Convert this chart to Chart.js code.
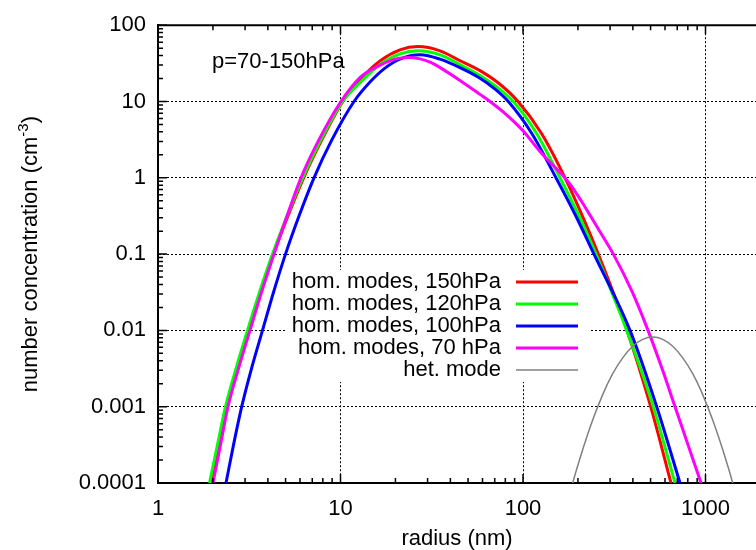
<!DOCTYPE html>
<html>
<head>
<meta charset="utf-8">
<script src="https://cdn.jsdelivr.net/npm/chart.js@4.4.1/dist/chart.umd.min.js"></script>
<style>
  html, body { margin: 0; padding: 0; background: #fff; }
  canvas { display: block; }
</style>
</head>
<body>
<canvas id="myChart" width="756" height="550"></canvas>
<script>
// radius (nm) / number concentration (cm-3)
var radius150 = [1.938, 2.143, 2.371, 2.708, 3.131, 3.642, 4.292, 5.153, 6.281, 7.914, 10.3, 12.79, 16.46, 21.18, 26.6, 35.1, 45.2, 58.1, 73.9, 93.9, 126.6, 169.9, 207.9, 258.6, 371.5, 500.9, 647];
var conc150   = [1e-4, 3.16e-4, 1e-3, 3.16e-3, 1e-2, 0.0316, 0.1, 0.316, 1, 3.16, 10, 19.3, 34.0, 47.5, 52.4, 46.1, 34.2, 25.4, 17.2, 10, 3.78, 1, 0.348, 0.1, 0.01, 1e-3, 1e-4];

var radius120 = [1.915, 2.118, 2.343, 2.676, 3.094, 3.599, 4.241, 5.092, 6.207, 7.82, 10.28, 12.79, 16.46, 21.18, 26.59, 35.09, 45.16, 58.12, 71.8, 88.5, 118.9, 159.5, 200.1, 251.2, 370.1, 517.6, 680.6];
var conc120   = [1e-4, 3.16e-4, 1e-3, 3.16e-3, 1e-2, 0.0316, 0.1, 0.316, 1, 3.16, 10, 17.6, 30.5, 42.0, 46.1, 40.9, 30.4, 21.9, 15.5, 10, 3.78, 1, 0.338, 0.1, 0.01, 1e-3, 1e-4];

var radius100 = [2.358, 2.593, 2.875, 3.253, 3.738, 4.295, 4.996, 5.925, 7.158, 8.981, 11.86, 14.51, 17.53, 21.18, 27.27, 35.09, 45.16, 58.12, 69.4, 83.1, 112.0, 151.6, 192.7, 244.9, 385.8, 540.3, 725];
var conc100   = [1e-4, 3.16e-4, 1e-3, 3.16e-3, 1e-2, 0.0316, 0.1, 0.316, 1, 3.16, 10, 18.0, 27.4, 35.9, 40.9, 35.9, 27.8, 20.2, 14.9, 10, 3.78, 1, 0.333, 0.1, 0.01, 1e-3, 1e-4];

var radius70 = [2.001, 2.2, 2.419, 2.761, 3.192, 3.691, 4.322, 5.092, 6.075, 7.624, 10.06, 12.79, 16.46, 19.89, 23.44, 27.27, 30.94, 35.09, 45.16, 58.12, 65.95, 80.7, 100, 123.9, 180.9, 264.2, 312.6, 394, 484.1, 577.8, 680.6, 802, 944.8];
var conc70   = [1e-4, 3.16e-4, 1e-3, 3.16e-3, 1e-2, 0.0316, 0.1, 0.316, 1, 3.16, 10, 20.6, 29.9, 35.9, 37.8, 36.2, 32.7, 27.8, 18.9, 12.4, 10, 6.79, 4.13, 2.21, 0.826, 0.196, 0.1, 0.0331, 0.01, 3.16e-3, 1e-3, 3.16e-4, 1e-4];

var radiusHet = [165.1, 187.2, 212.4, 240.9, 273.3, 310.2, 351.8, 399.1, 452.9, 513.6, 582.9, 661.1, 750.2, 850.9, 965.4, 1095, 1242, 1409, 1599];
var concHet   = [2.93e-5, 1e-4, 2.74e-4, 6.69e-4, 1.44e-3, 2.71e-3, 4.37e-3, 6.19e-3, 7.62e-3, 8.17e-3, 7.62e-3, 6.19e-3, 4.37e-3, 2.71e-3, 1.44e-3, 6.69e-4, 2.74e-4, 1e-4, 2.93e-5];

var xMajor = [1, 10, 100, 1000];
var xTickLabels = ['1', '10', '100', '1000'];
var yMajor = [0.0001, 0.001, 0.01, 0.1, 1, 10, 100];
var yTickLabels = ['0.0001', '0.001', '0.01', '0.1', '1', '10', '100'];

var FONT = '"Liberation Sans", Arial, Helvetica, sans-serif';

// majors plus 2..9 minors in every decade
function withMinors(majors) {
  var out = [];
  for (var i = 0; i < majors.length; i++) {
    out.push(majors[i]);
    if (i < majors.length - 1) {
      for (var k = 2; k <= 9; k++) out.push(k * majors[i]);
    }
  }
  return out;
}
var xTicks = withMinors(xMajor);
var yTicks = withMinors(yMajor);

function pts(r, n) {
  return r.map(function (v, i) { return { x: v, y: n[i] }; });
}

function line(label, r, n, color, width, order) {
  return {
    label: label,
    data: pts(r, n),
    borderColor: color,
    backgroundColor: color,
    borderWidth: width,
    fill: false,
    pointRadius: 0,
    cubicInterpolationMode: 'monotone',
    order: order
  };
}

var decorations = {
  id: 'decorations',
  beforeDatasetsDraw: function (chart) {
    // opaque key box, hides the grid behind the legend
    var ctx = chart.ctx;
    ctx.save();
    ctx.fillStyle = '#fff';
    ctx.fillRect(286, 270, 304, 112);
    ctx.restore();
  },
  afterDraw: function (chart) {
    var ctx = chart.ctx, a = chart.chartArea;
    var xs = chart.scales.x, ys = chart.scales.y;
    ctx.save();
    ctx.strokeStyle = '#000';

    // top border
    ctx.lineWidth = 2;
    ctx.beginPath();
    ctx.moveTo(a.left, a.top);
    ctx.lineTo(a.right, a.top);
    ctx.stroke();

    // inward tick marks
    ctx.lineWidth = 1.5;
    ctx.beginPath();
    xs.ticks.forEach(function (t) {
      var px = xs.getPixelForValue(t.value);
      var len = xMajor.indexOf(t.value) >= 0 ? 9 : 5;
      ctx.moveTo(px, a.bottom); ctx.lineTo(px, a.bottom - len);
      ctx.moveTo(px, a.top); ctx.lineTo(px, a.top + len);
    });
    ys.ticks.forEach(function (t) {
      var py = ys.getPixelForValue(t.value);
      var len = yMajor.indexOf(t.value) >= 0 ? 9 : 5;
      ctx.moveTo(a.left, py); ctx.lineTo(a.left + len, py);
    });
    ctx.stroke();

    ctx.fillStyle = '#000';
    ctx.font = '22px ' + FONT;

    // label in the corner
    ctx.textAlign = 'left';
    ctx.textBaseline = 'alphabetic';
    ctx.fillText('p=70-150hPa', 212, 68);

    // legend
    ctx.textAlign = 'right';
    ctx.textBaseline = 'middle';
    chart.data.datasets.forEach(function (ds, row) {
      var y = 282 + row * 22;
      ctx.fillStyle = '#000';
      ctx.fillText(ds.label, 501, y);
      ctx.strokeStyle = ds.borderColor;
      ctx.lineWidth = ds.borderWidth;
      ctx.beginPath();
      ctx.moveTo(516, y);
      ctx.lineTo(578, y);
      ctx.stroke();
    });

    // y axis title with superscript
    ctx.translate(37, (a.top + a.bottom) / 2);
    ctx.rotate(-Math.PI / 2);
    ctx.fillStyle = '#000';
    ctx.textAlign = 'left';
    ctx.textBaseline = 'alphabetic';
    var main = 'number concentration (cm', sup = '-3', tail = ')';
    ctx.font = '22px ' + FONT;
    var w1 = ctx.measureText(main).width, w3 = ctx.measureText(tail).width;
    ctx.font = '15px ' + FONT;
    var w2 = ctx.measureText(sup).width;
    var x0 = -(w1 + w2 + w3) / 2;
    ctx.font = '22px ' + FONT;
    ctx.fillText(main, x0, 0);
    ctx.font = '15px ' + FONT;
    ctx.fillText(sup, x0 + w1, -9);
    ctx.font = '22px ' + FONT;
    ctx.fillText(tail, x0 + w1 + w2, 0);
    ctx.restore();
  }
};

function gridColor(majors) {
  return function (c) {
    return c.tick && majors.indexOf(c.tick.value) >= 0 ? '#000' : 'rgba(0,0,0,0)';
  };
}

Chart.defaults.font.family = FONT;
Chart.defaults.font.size = 22;
Chart.defaults.color = '#000';

var ctx = document.getElementById('myChart').getContext('2d');
var chart = new Chart(ctx, {
  type: 'line',
  data: {
    datasets: [
      line('hom. modes, 150hPa', radius150, conc150, '#ff0000', 3, 5),
      line('hom. modes, 120hPa', radius120, conc120, '#00ff00', 3, 4),
      line('hom. modes, 100hPa', radius100, conc100, '#0000ff', 3, 3),
      line('hom. modes, 70 hPa', radius70, conc70, '#ff00ff', 3, 2),
      line('het. mode', radiusHet, concHet, '#808080', 1.5, 1)
    ]
  },
  options: {
    responsive: false,
    animation: false,
    layout: { padding: { top: 19, left: 0, right: 0, bottom: 0 } },
    plugins: { legend: { display: false }, tooltip: { enabled: false } },
    scales: {
      x: {
        type: 'logarithmic',
        min: 1,
        max: 1891,
        afterBuildTicks: function (s) { s.ticks = xTicks.map(function (v) { return { value: v }; }); },
        afterFit: function (s) { s.height = 67; },
        ticks: {
          autoSkip: false,
          maxRotation: 0,
          padding: 13,
          callback: function (v) { var i = xMajor.indexOf(v); return i < 0 ? '' : xTickLabels[i]; }
        },
        grid: { drawTicks: false, color: gridColor(xMajor), lineWidth: 1 },
        border: { display: true, color: '#000', width: 2, dash: [2, 2] },
        title: { display: true, text: 'radius (nm)', font: { size: 22, lineHeight: 1 }, padding: { top: 0, bottom: 0 } }
      },
      y: {
        type: 'logarithmic',
        min: 0.0001,
        max: 100,
        afterBuildTicks: function (s) { s.ticks = yTicks.map(function (v) { return { value: v }; }); },
        afterFit: function (s) { s.width = 158; },
        ticks: {
          autoSkip: false,
          padding: 12,
          callback: function (v) { var i = yMajor.indexOf(v); return i < 0 ? '' : yTickLabels[i]; }
        },
        grid: { drawTicks: false, color: gridColor(yMajor), lineWidth: 1 },
        border: { display: true, color: '#000', width: 2, dash: [2, 2] }
      }
    }
  },
  plugins: [decorations]
});
</script>
</body>
</html>
